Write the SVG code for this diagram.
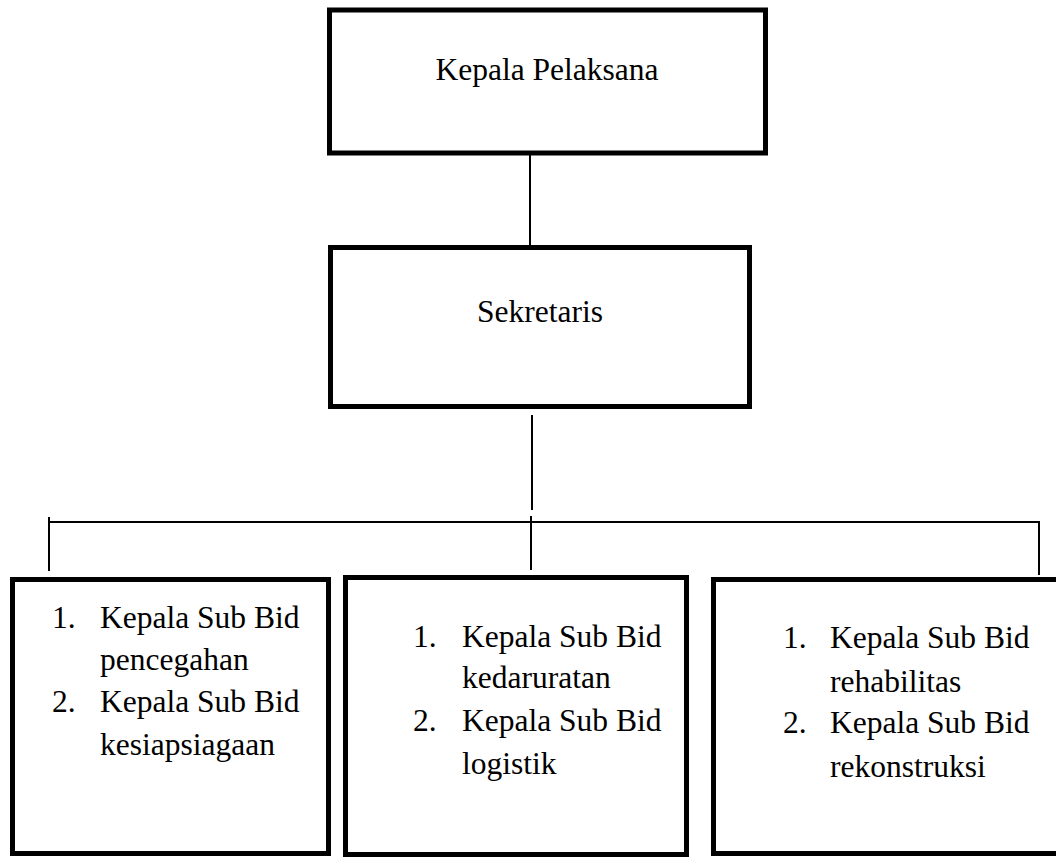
<svg xmlns="http://www.w3.org/2000/svg" width="1056" height="858" viewBox="0 0 1056 858">
<style>
.box{fill:#fff;stroke:#000;stroke-width:5}
.ln{stroke:#000;stroke-width:2;fill:none}
text{font-family:"Liberation Serif","Times New Roman",serif;font-size:31.5px;fill:#000}
</style>
<rect width="1056" height="858" fill="#fff"/>
<g id="connectors">
<line class="ln" x1="530" y1="155" x2="530" y2="252"/>
<line class="ln" x1="532" y1="415" x2="532" y2="510"/>
<line class="ln" x1="49" y1="522" x2="1040" y2="522"/>
<line class="ln" x1="531" y1="516" x2="531" y2="570"/>
<line class="ln" x1="49" y1="517" x2="49" y2="571"/>
<line class="ln" x1="1039" y1="522" x2="1039" y2="575"/>
</g>
<g id="kepala">
<rect class="box" x="329.5" y="10" width="436" height="143"/>
<text x="547" y="80" text-anchor="middle">Kepala Pelaksana</text>
</g>
<g id="sekretaris">
<rect class="box" x="330.5" y="247.5" width="419" height="159"/>
<text x="540" y="322" text-anchor="middle">Sekretaris</text>
</g>
<g id="bidang1">
<rect class="box" x="12.5" y="579.5" width="316" height="274"/>
<text x="52" y="628">1.</text>
<text x="100" y="628">Kepala Sub Bid</text>
<text x="100" y="670">pencegahan</text>
<text x="52" y="712">2.</text>
<text x="100" y="712">Kepala Sub Bid</text>
<text x="100" y="755">kesiapsiagaan</text>
</g>
<g id="bidang2">
<rect class="box" x="345.5" y="577.5" width="341" height="277"/>
<text x="413" y="647">1.</text>
<text x="462" y="647">Kepala Sub Bid</text>
<text x="462" y="688">kedaruratan</text>
<text x="413" y="731">2.</text>
<text x="462" y="731">Kepala Sub Bid</text>
<text x="462" y="774">logistik</text>
</g>
<g id="bidang3">
<rect class="box" x="713.5" y="579.5" width="350" height="274"/>
<text x="783" y="648">1.</text>
<text x="830" y="648">Kepala Sub Bid</text>
<text x="830" y="692">rehabilitas</text>
<text x="783" y="733">2.</text>
<text x="830" y="733">Kepala Sub Bid</text>
<text x="830" y="777">rekonstruksi</text>
</g>
</svg>
